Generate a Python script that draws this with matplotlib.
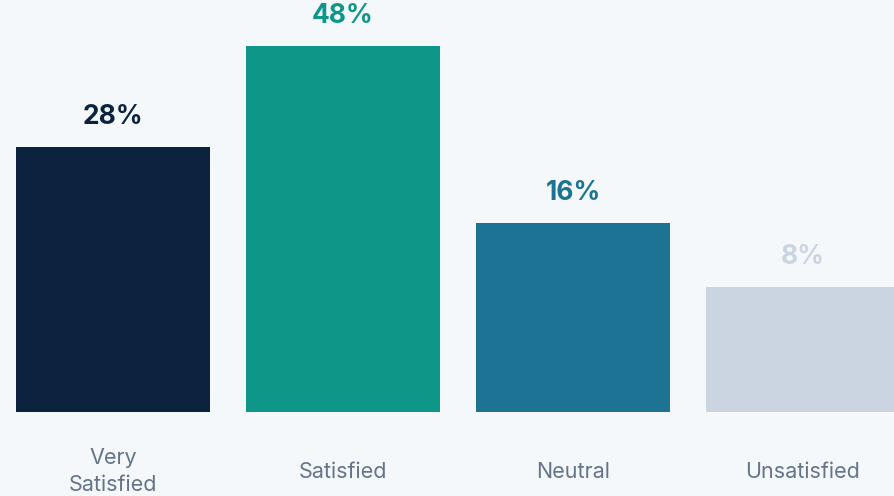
import matplotlib
matplotlib.use('Agg')
import matplotlib.pyplot as plt
import numpy as np

categories = ['Very\nSatisfied', 'Satisfied', 'Neutral', 'Unsatisfied']
values = [28, 48, 16, 8]
value_labels = ['28%', '48%', '16%', '8%']
colors = ['#0c2340', '#0e9688', '#1d7394', '#cbd5e1']

bg = '#f4f8fa'
plt.rcParams['font.family'] = ['Inter', 'DejaVu Sans']

fig = plt.figure(figsize=(8.95, 4.96), dpi=100, facecolor=bg)
ax = fig.add_axes([0, 84 / 496, 1, 412 / 496])
ax.set_facecolor(bg)

# bars in the source are not linear in the value, a power scale fits them well
p = 0.6
ax.set_yscale('function', functions=(lambda v: np.sign(v) * np.abs(v) ** p,
                                     lambda v: np.sign(v) * np.abs(v) ** (1 / p)))

x = np.arange(len(categories))
ax.bar(x, values, width=0.843, color=colors, zorder=2)
ax.set_xlim(-113 / 230, (895 - 113) / 230)
ax.set_ylim(0, 58.4)

for xi, v, lab, c in zip(x, values, value_labels, colors):
    ax.annotate(lab, (xi, v), xytext=(0, 21.5), textcoords='offset points',
                ha='center', va='center', fontsize=19, fontweight='bold', color=c)

ax.set_xticks(x)
ax.set_xticklabels(categories, fontsize=15.5, color='#64748b', linespacing=1.42,
                   va='center')
ax.tick_params(axis='x', length=0, pad=43)
ax.set_yticks([])
for s in ax.spines.values():
    s.set_visible(False)

fig.savefig('out.png', dpi=100, facecolor=bg)
